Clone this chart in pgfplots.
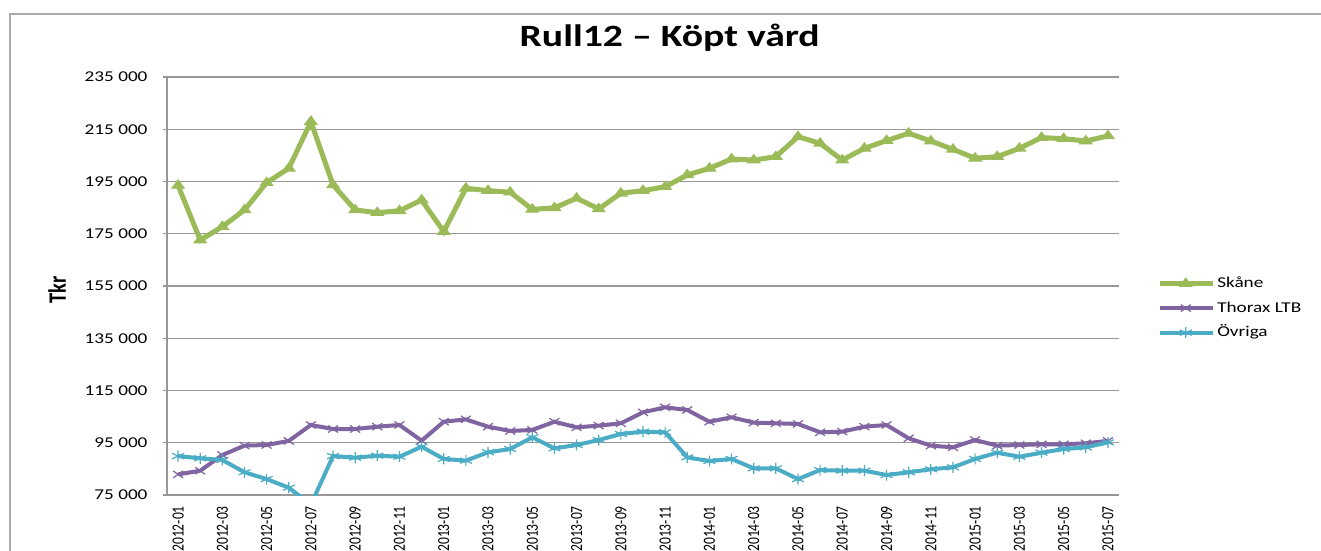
\documentclass[border=0pt]{standalone}
\usepackage{fontspec}
\usepackage{pgfplots}
\pgfplotsset{compat=1.18}
\setmainfont{Carlito}
\newfontfamily\wide{Carlito}[FakeStretch=1.28]
\newfontfamily\narrow{Carlito}[FakeStretch=0.8]
\newfontfamily\narrowb{Carlito}[FakeStretch=0.82]
\definecolor{cGreen}{RGB}{155,187,89}
\definecolor{cPurple}{RGB}{128,100,162}
\definecolor{cTeal}{RGB}{75,172,198}
\definecolor{cGrid}{RGB}{152,152,152}
\begin{document}
\begin{tikzpicture}
\useasboundingbox (0pt,0pt) rectangle (1321pt,550pt);
\fill[white] (0pt,0pt) rectangle (1321pt,550pt);
\draw[color={rgb,255:red,170;green,170;blue,170}, line width=1.2pt] (10pt,536pt) rectangle (1340pt,-20pt);
\begin{axis}[
  at={(167pt,55pt)}, anchor=south west,
  width=952pt, height=418pt, scale only axis,
  xmin=-0.5, xmax=42.5, ymin=75000, ymax=235000,
  scaled y ticks=false,
  axis x line*=bottom, axis y line*=left,
  axis line style={cGrid, line width=1.2pt, -},
  ytick={75000,95000,115000,135000,155000,175000,195000,215000,235000},
  yticklabels={75 000,95 000,115 000,135 000,155 000,175 000,195 000,215 000,235 000},
  yticklabel style={font=\wide\fontsize{15}{17}\selectfont, anchor=east, xshift=-12pt},
  ymajorgrids, grid style={cGrid, line width=1.2pt},
  tick align=outside, major tick length=4pt,
  ytick style={cGrid, line width=1.2pt},
  xtick={0,2,...,42},
  xticklabels={2012-01,2012-03,2012-05,2012-07,2012-09,2012-11,2013-01,2013-03,2013-05,2013-07,2013-09,2013-11,2014-01,2014-03,2014-05,2014-07,2014-09,2014-11,2015-01,2015-03,2015-05,2015-07},
  xtick style={draw=none},
  xticklabel shift=7pt,
  xticklabel style={font=\narrow\fontsize{17}{19}\selectfont, rotate=90, anchor=east, inner sep=0pt},
  title={\wide\bfseries\fontsize{31}{35}\selectfont Rull12 – Köpt vård},
  title style={at={(rel axis cs:0.528,1.079)}, anchor=center, inner sep=0pt},
  ylabel={\narrowb\bfseries\fontsize{25}{28}\selectfont Tkr},
  ylabel style={at={(rel axis cs:-0.1155,0.49)}, anchor=center, rotate=0},
  clip marker paths=true,
  legend style={draw=none, fill=none, at={(rel axis cs:1.04,0.447)}, anchor=west, inner sep=0pt,
    font=\wide\fontsize{15}{17}\selectfont, row sep=6.5pt,
    nodes={text height=11pt, text depth=3pt, inner sep=2pt}},
  legend cell align=left,
  legend image code/.code={\draw[mark repeat=2,mark phase=2,#1] plot coordinates {(0pt,0pt) (26pt,0pt) (53pt,0pt)};},
]
\addplot[cGreen, line width=5pt, mark=triangle*, mark size=5.5pt, mark options={solid, line width=1pt, fill=cGreen, xscale=1.3}] coordinates {
(0,193500) (1,172600) (2,177700) (3,184100) (4,194550) (5,200050) (6,217900) (7,193670) (8,184100) (9,183050) (10,183800) (11,187900)
(12,175800) (13,192400) (14,191500) (15,190900) (16,184350) (17,184900) (18,188600) (19,184500) (20,190500) (21,191500) (22,193000) (23,197500)
(24,200050) (25,203600) (26,203200) (27,204500) (28,212150) (29,209600) (30,203200) (31,207700) (32,210650) (33,213450) (34,210500) (35,207300)
(36,203900) (37,204500) (38,207700) (39,211800) (40,211400) (41,210500) (42,212450)
};
\addlegendentry{Skåne}
\addplot[cPurple, line width=4pt, mark=x, mark size=5pt, mark options={solid, line width=1.2pt, xscale=1.4}] coordinates {
(0,82900) (1,84300) (2,90300) (3,93900) (4,94150) (5,95700) (6,101800) (7,100250) (8,100250) (9,101150) (10,101800) (11,95800)
(12,103050) (13,103950) (14,101150) (15,99500) (16,99900) (17,103050) (18,100900) (19,101550) (20,102450) (21,106650) (22,108550) (23,107550)
(24,103050) (25,104750) (26,102700) (27,102450) (28,102200) (29,99000) (30,99250) (31,101150) (32,101800) (33,96700) (34,93900) (35,93250)
(36,96050) (37,93900) (38,94150) (39,94400) (40,94400) (41,94800) (42,95700)
};
\addlegendentry{Thorax LTB}
\addplot[cTeal, line width=4pt, mark=asterisk, mark size=5.5pt, mark options={solid, line width=1.2pt, xscale=1.25}] coordinates {
(0,89900) (1,89050) (2,88400) (3,83700) (4,81100) (5,77800) (6,71300) (7,89900) (8,89300) (9,90050) (10,89650) (11,93500)
(12,88800) (13,88150) (14,91350) (15,92600) (16,97100) (17,92850) (18,94150) (19,96050) (20,98350) (21,99250) (22,99000) (23,89400)
(24,88000) (25,88800) (26,85200) (27,85200) (28,81100) (29,84550) (30,84300) (31,84300) (32,82650) (33,83700) (34,84850) (35,85600)
(36,88800) (37,91200) (38,89650) (39,91200) (40,92600) (41,93250) (42,95150)
};
\addlegendentry{Övriga}
\end{axis}
\end{tikzpicture}
\end{document}
